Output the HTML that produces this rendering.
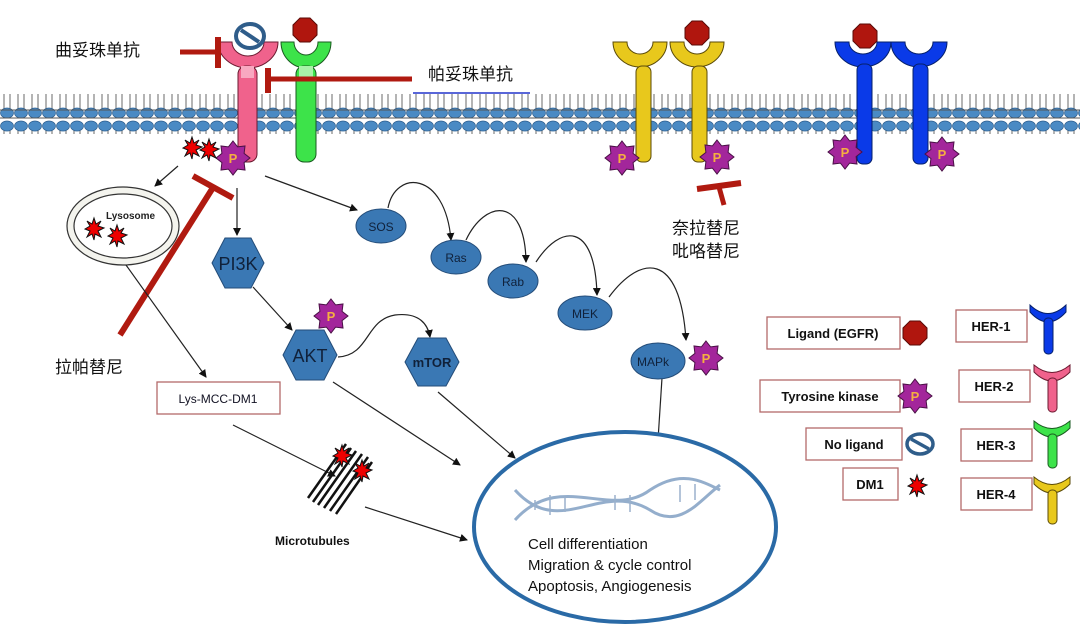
<!DOCTYPE html>
<html><head><meta charset="utf-8"><style>
html,body{margin:0;padding:0;background:#fff;}
svg{display:block;}
.cn{font-family:"Liberation Sans","Noto Sans CJK SC",sans-serif;font-size:17px;fill:#111;}
.lb{font-family:"Liberation Sans",sans-serif;font-size:12px;fill:#112;}
.bd{font-family:"Liberation Sans",sans-serif;font-size:12px;font-weight:bold;fill:#111;}
</style></head><body>
<svg width="1080" height="638" viewBox="0 0 1080 638" xmlns="http://www.w3.org/2000/svg">
<defs>
<marker id="ar" markerWidth="8" markerHeight="8" refX="7" refY="4" orient="auto" markerUnits="userSpaceOnUse"><path d="M0,0 L8,4 L0,8 z" fill="#111"/></marker>
<pattern id="mem" x="0" y="0" width="14" height="40" patternUnits="userSpaceOnUse">
<line x1="4" y1="6" x2="4" y2="34" stroke="#444" stroke-width="0.8"/>
<line x1="10" y1="6" x2="10" y2="34" stroke="#444" stroke-width="0.8"/>
<ellipse cx="7" cy="6" rx="6.5" ry="5" fill="#4a8ac4" stroke="#2e5f8f" stroke-width="0.7"/>
<ellipse cx="7" cy="33" rx="6.5" ry="5" fill="#4a8ac4" stroke="#2e5f8f" stroke-width="0.7"/>
</pattern>
<g id="star"><polygon points="0,-17 4.6,-11.1 12,-12 11.1,-4.6 17,0 11.1,4.6 12,12 4.6,11.1 0,17 -4.6,11.1 -12,12 -11.1,4.6 -17,0 -11.1,-4.6 -12,-12 -4.6,-11.1" fill="#a3269b" stroke="#4a1046" stroke-width="1"/><text x="0" y="5" text-anchor="middle" font-family="Liberation Sans,sans-serif" font-size="13" font-weight="bold" fill="#f5b040">P</text></g>
<g id="oct"><polygon points="-5,-12 5,-12 12,-5 12,5 5,12 -5,12 -12,5 -12,-5" fill="#b0160e" stroke="#5a0a06" stroke-width="1"/></g>
<g id="dm"><polygon points="0,-11 2,-5 7,-8 4,-3 10,-1 4,2 7,8 1,5 0,11 -2,5 -7,8 -4,2 -9,0 -4,-3 -7,-8 -2,-5" fill="#e00" stroke="#111" stroke-width="1"/></g>
</defs>
<rect x="0" y="94" width="1080" height="40" fill="url(#mem)"/>
<line x1="0" y1="110" x2="1080" y2="110" stroke="#555"/>
<line x1="0" y1="118" x2="1080" y2="118" stroke="#555"/>

<!-- receptors: pink -->
<path d="M218,42 A30,26 0 0 0 278,42 L264,42 A16,14 0 0 1 232,42 Z" fill="#f0628c" stroke="#6a1a30" stroke-width="1"/>
<rect x="238" y="66" width="19" height="96" rx="8" fill="#f0628c" stroke="#6a1a30" stroke-width="1"/>
<rect x="241" y="66" width="13" height="12" fill="#f8a8c0"/>
<ellipse cx="250" cy="36" rx="14" ry="12" fill="#fff" stroke="#2f5d8a" stroke-width="4"/>
<line x1="241" y1="30" x2="259" y2="42" stroke="#2f5d8a" stroke-width="4"/>
<!-- green -->
<path d="M281,42 A25,26 0 0 0 331,42 L318,42 A12,13 0 0 1 294,42 Z" fill="#3de34a" stroke="#1a5a20" stroke-width="1"/>
<rect x="296" y="66" width="20" height="96" rx="8" fill="#3de34a" stroke="#1a5a20" stroke-width="1"/>
<rect x="299" y="66" width="14" height="12" fill="#a8f2a8"/>
<use href="#oct" x="305" y="30"/>
<!-- yellow -->
<path d="M613,42 A27,25 0 0 0 667,42 L653,42 A13,12 0 0 1 627,42 Z" fill="#e8c81c" stroke="#5a4a08" stroke-width="1"/>
<rect x="636" y="66" width="15" height="96" rx="6" fill="#e8c81c" stroke="#5a4a08" stroke-width="1"/>
<path d="M670,42 A27,25 0 0 0 724,42 L710,42 A13,12 0 0 1 684,42 Z" fill="#e8c81c" stroke="#5a4a08" stroke-width="1"/>
<rect x="692" y="66" width="15" height="96" rx="6" fill="#e8c81c" stroke="#5a4a08" stroke-width="1"/>
<use href="#oct" x="697" y="33"/>
<!-- blue -->
<path d="M835,42 A28,25 0 0 0 891,42 L877,42 A14,12 0 0 1 849,42 Z" fill="#0a3ae8" stroke="#06206a" stroke-width="1"/>
<rect x="857" y="64" width="15" height="100" rx="6" fill="#0a3ae8" stroke="#06206a" stroke-width="1"/>
<path d="M891,42 A28,25 0 0 0 947,42 L933,42 A14,12 0 0 1 905,42 Z" fill="#0a3ae8" stroke="#06206a" stroke-width="1"/>
<rect x="913" y="64" width="15" height="100" rx="6" fill="#0a3ae8" stroke="#06206a" stroke-width="1"/>
<use href="#oct" x="865" y="36"/>

<use href="#star" x="233" y="158"/>
<use href="#star" x="622" y="158"/>
<use href="#star" x="717" y="157"/>
<use href="#star" x="845" y="152"/>
<use href="#star" x="942" y="154"/>
<use href="#dm" x="192" y="148"/>
<use href="#dm" x="209" y="150"/>

<!-- inhibitors -->
<line x1="180" y1="52" x2="216" y2="52" stroke="#b01a10" stroke-width="5"/>
<line x1="218" y1="37" x2="218" y2="68" stroke="#b01a10" stroke-width="6"/>
<line x1="270" y1="79" x2="412" y2="79" stroke="#b01a10" stroke-width="5"/>
<line x1="268" y1="68" x2="268" y2="93" stroke="#b01a10" stroke-width="6"/>
<line x1="120" y1="335" x2="214" y2="186" stroke="#b01a10" stroke-width="6"/>
<line x1="193" y1="176" x2="233" y2="198" stroke="#b01a10" stroke-width="6"/>
<line x1="697" y1="189" x2="741" y2="183" stroke="#b01a10" stroke-width="6"/>
<line x1="719" y1="187" x2="724" y2="205" stroke="#b01a10" stroke-width="5"/>
<line x1="413" y1="93" x2="530" y2="93" stroke="#2233cc" stroke-width="1.5"/>

<text x="55" y="56" class="cn">曲妥珠单抗</text>
<text x="428" y="80" class="cn">帕妥珠单抗</text>
<text x="672" y="234" class="cn">奈拉替尼</text>
<text x="672" y="257" class="cn">吡咯替尼</text>
<text x="55" y="373" class="cn">拉帕替尼</text>

<!-- lysosome -->
<ellipse cx="123" cy="226" rx="56" ry="39" fill="#f4f4ee" stroke="#333" stroke-width="1.2"/>
<ellipse cx="123" cy="226" rx="49" ry="32" fill="#fff" stroke="#333" stroke-width="1.2"/>
<text x="106" y="219" font-family="Liberation Sans,sans-serif" font-size="10" font-weight="bold" fill="#222">Lysosome</text>
<use href="#dm" x="94" y="229"/>
<use href="#dm" x="117" y="236"/>

<g stroke="#222" stroke-width="1.2" fill="none" marker-end="url(#ar)">
<line x1="178" y1="166" x2="155" y2="186"/>
<line x1="237" y1="188" x2="237" y2="235"/>
<line x1="265" y1="176" x2="357" y2="210"/>
<line x1="253" y1="287" x2="292" y2="330"/>
<line x1="126" y1="265" x2="206" y2="377"/>
<path d="M388,208 C395,170 445,170 451,240"/>
<path d="M466,240 C485,200 525,195 526,262"/>
<path d="M536,262 C560,225 595,220 597,295"/>
<path d="M609,297 C640,255 680,250 686,340"/>
<path d="M338,357 C370,355 365,320 395,315 C420,312 428,325 430,337"/>
<line x1="662" y1="378" x2="658" y2="440"/>
<line x1="333" y1="382" x2="460" y2="465"/>
<line x1="438" y1="392" x2="515" y2="458"/>
<line x1="233" y1="425" x2="335" y2="476"/>
<line x1="365" y1="507" x2="467" y2="540"/>
</g>

<g fill="#3a78b4" stroke="#244c78" stroke-width="1">
<ellipse cx="381" cy="226" rx="25" ry="17"/>
<ellipse cx="456" cy="257" rx="25" ry="17"/>
<ellipse cx="513" cy="281" rx="25" ry="17"/>
<ellipse cx="585" cy="313" rx="27" ry="17"/>
<ellipse cx="658" cy="361" rx="27" ry="18"/>
<polygon points="212,263 225,238 251,238 264,263 251,288 225,288"/>
<polygon points="283,355 296,330 324,330 337,355 324,380 296,380"/>
<polygon points="405,362 418,338 446,338 459,362 446,386 418,386"/>
</g>
<g font-family="Liberation Sans,sans-serif" fill="#10213a" text-anchor="middle">
<text x="381" y="231" font-size="12">SOS</text>
<text x="456" y="262" font-size="12">Ras</text>
<text x="513" y="286" font-size="12">Rab</text>
<text x="585" y="318" font-size="12">MEK</text>
<text x="653" y="366" font-size="12">MAPk</text>
<text x="238" y="270" font-size="18">PI3K</text>
<text x="310" y="362" font-size="18">AKT</text>
<text x="432" y="367" font-size="13" font-weight="bold">mTOR</text>
</g>
<use href="#star" x="331" y="316"/>
<use href="#star" x="706" y="358"/>

<rect x="157" y="382" width="123" height="32" fill="#fff" stroke="#b46a6a" stroke-width="1.3"/>
<text x="218" y="403" text-anchor="middle" class="lb" font-size="13">Lys-MCC-DM1</text>

<!-- microtubules -->
<g stroke="#111" stroke-width="2.5">
<line x1="308" y1="498" x2="346" y2="444"/>
<line x1="313" y1="502" x2="351" y2="448"/>
<line x1="318" y1="505" x2="356" y2="451"/>
<line x1="324" y1="508" x2="362" y2="454"/>
<line x1="330" y1="511" x2="368" y2="457"/>
<line x1="336" y1="514" x2="372" y2="462"/>
</g>
<use href="#dm" x="342" y="456"/>
<use href="#dm" x="362" y="471"/>
<text x="275" y="545" class="bd" font-size="11">Microtubules</text>

<!-- nucleus -->
<ellipse cx="625" cy="527" rx="151" ry="95" fill="#fff" stroke="#2a6aa6" stroke-width="4"/>
<g stroke="#7a9ac0" stroke-width="3" fill="none" opacity="0.8">
<path d="M515,520 C560,470 610,520 650,490 C680,470 700,480 720,490"/>
<path d="M515,490 C560,540 600,480 650,510 C680,530 700,500 720,485"/>
</g>
<g stroke="#9ab0cc" stroke-width="1.5">
<line x1="535" y1="500" x2="535" y2="510"/><line x1="550" y1="495" x2="550" y2="515"/><line x1="565" y1="497" x2="565" y2="512"/>
<line x1="615" y1="495" x2="615" y2="510"/><line x1="630" y1="495" x2="630" y2="512"/><line x1="680" y1="485" x2="680" y2="502"/><line x1="695" y1="484" x2="695" y2="500"/>
</g>
<g font-family="Liberation Sans,sans-serif" font-size="15" fill="#111">
<text x="528" y="549">Cell differentiation</text>
<text x="528" y="570">Migration &amp; cycle control</text>
<text x="528" y="591">Apoptosis, Angiogenesis</text>
</g>

<g fill="#fff" stroke="#b46a6a" stroke-width="1.3">
<rect x="767" y="317" width="133" height="32"/>
<rect x="760" y="380" width="140" height="32"/>
<rect x="806" y="428" width="96" height="32"/>
<rect x="843" y="468" width="55" height="32"/>
<rect x="956" y="310" width="71" height="32"/>
<rect x="959" y="370" width="71" height="32"/>
<rect x="961" y="429" width="71" height="32"/>
<rect x="961" y="478" width="71" height="32"/>
</g>
<g font-family="Liberation Sans,sans-serif" font-size="13" font-weight="bold" fill="#111" text-anchor="middle">
<text x="833" y="338">Ligand (EGFR)</text>
<text x="830" y="401">Tyrosine kinase</text>
<text x="854" y="449">No ligand</text>
<text x="870" y="489">DM1</text>
<text x="991" y="331">HER-1</text>
<text x="994" y="391">HER-2</text>
<text x="996" y="450">HER-3</text>
<text x="996" y="499">HER-4</text>
</g>
<use href="#oct" x="915" y="333"/>
<use href="#star" x="915" y="396"/>
<ellipse cx="920" cy="444" rx="13" ry="10" fill="#fff" stroke="#2f5d8a" stroke-width="3.5"/>
<line x1="911" y1="439" x2="929" y2="449" stroke="#2f5d8a" stroke-width="3.5"/>
<use href="#dm" x="917" y="486"/>
<g stroke-width="1">
<path d="M1030,305 Q1048,322 1066,305 L1066,312 Q1048,332 1030,312 Z" fill="#0a3ae8" stroke="#06206a"/>
<rect x="1044" y="318" width="9" height="36" rx="4" fill="#0a3ae8" stroke="#06206a"/>
<path d="M1034,365 Q1052,380 1070,365 L1070,372 Q1052,390 1034,372 Z" fill="#f0628c" stroke="#6a1a30"/>
<rect x="1048" y="378" width="9" height="34" rx="4" fill="#f0628c" stroke="#6a1a30"/>
<path d="M1034,421 Q1052,436 1070,421 L1070,428 Q1052,446 1034,428 Z" fill="#3de34a" stroke="#1a5a20"/>
<rect x="1048" y="434" width="9" height="34" rx="4" fill="#3de34a" stroke="#1a5a20"/>
<path d="M1034,477 Q1052,492 1070,477 L1070,484 Q1052,502 1034,484 Z" fill="#e8c81c" stroke="#5a4a08"/>
<rect x="1048" y="490" width="9" height="34" rx="4" fill="#e8c81c" stroke="#5a4a08"/>
</g>
</svg>
</body></html>
